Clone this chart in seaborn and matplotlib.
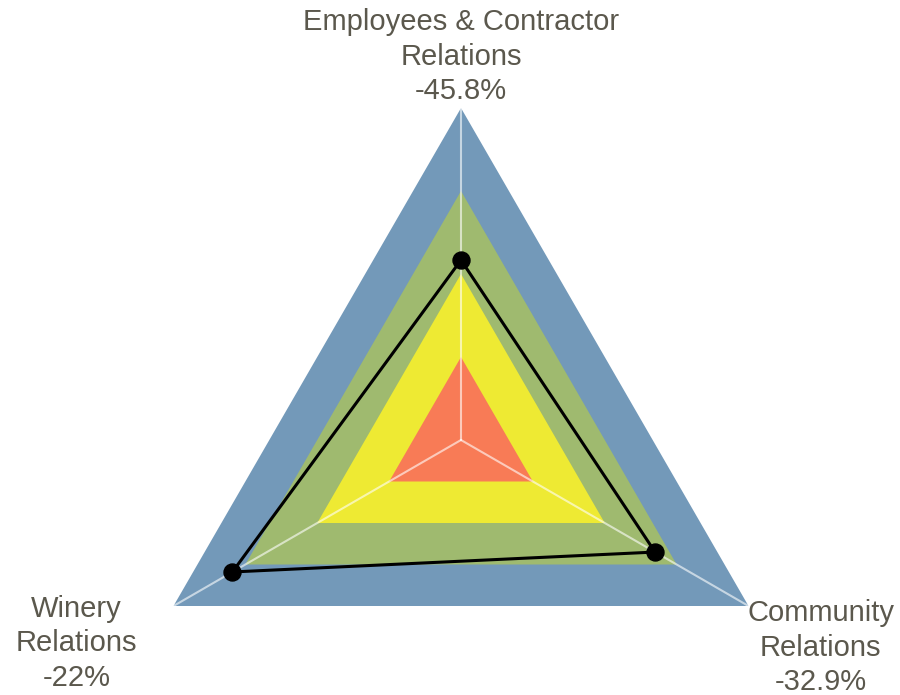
import numpy as np
import pandas as pd
import seaborn as sns
import matplotlib.pyplot as plt

# axis names, change labels and plotted scores (0-100 scale)
categories = ["Employees & Contractor\nRelations", "Community\nRelations", "Winery\nRelations"]
change_labels = ["-45.8%", "-32.9%", "-22%"]
scores = [54.2, 67.5, 79.5]

# background bands
band_levels = [100, 75, 50, 25]
band_colors = ["#7399b9", "#9fba6f", "#eeea33", "#f87b56"]

sns.set_theme(style="white")
plt.rcParams["font.family"] = ["Liberation Sans", "DejaVu Sans"]

n = len(categories)
angles = np.pi / 2 - np.arange(n) * 2 * np.pi / n

def to_xy(r):
    r = np.asarray(r, dtype=float) / 100
    return r * np.cos(angles), r * np.sin(angles)

fig = plt.figure(figsize=(9, 6.95), dpi=100)
ax = fig.add_axes([0, 0, 1, 1])

for lvl, col in zip(band_levels, band_colors):
    x, y = to_xy([lvl] * n)
    ax.fill(x, y, color=col, lw=0, zorder=1)

# spokes
vx, vy = to_xy([100] * n)
for xx, yy in zip(vx, vy):
    ax.plot([0, xx], [0, yy], color="white", alpha=0.6, lw=1.5, zorder=2)

px, py = to_xy(scores)
df = pd.DataFrame({"x": px, "y": py})
closed = pd.concat([df, df.iloc[:1]], ignore_index=True)
ax.plot(closed["x"], closed["y"], color="black", lw=2.2, zorder=3)
sns.scatterplot(data=df, x="x", y="y", color="black", s=150, edgecolor="black",
                zorder=4, ax=ax, legend=False)

txt_color = "#5b584d"
offsets = [(0, 2, "center", "bottom"), (52, 5, "center", "top"), (-70, 8, "center", "top")]
for i in range(n):
    dx, dy, ha, va = offsets[i]
    ax.annotate(categories[i] + "\n" + change_labels[i], xy=(vx[i], vy[i]),
                xytext=(dx, dy), textcoords="offset points", ha=ha, va=va,
                multialignment="center", fontsize=21, color=txt_color,
                linespacing=1.3, zorder=5)

ax.set_xlim(-461 / 332, 439 / 332)
ax.set_ylim(-255 / 332, 440 / 332)
ax.set_aspect("equal")
ax.axis("off")

fig.savefig("out.png", dpi=100)
